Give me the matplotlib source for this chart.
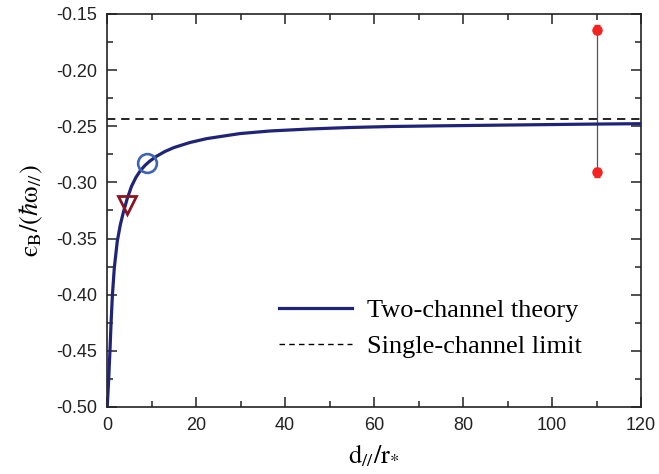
import matplotlib
matplotlib.use("Agg")
import matplotlib.pyplot as plt
from matplotlib.ticker import MultipleLocator, FormatStrFormatter
from matplotlib.lines import Line2D

plt.rcParams['mathtext.fontset'] = 'stix'
plt.rcParams['font.family'] = ['Liberation Sans', 'DejaVu Sans']

# Two-channel theory curve
curve_x = [0.05, 0.2, 0.37, 0.52, 0.67, 0.9, 1.2, 1.64, 2.3, 3.0, 3.7, 4.5, 5.5, 6.5,
           7.5, 8.5, 9.5, 11, 13, 15, 18.6, 22.4, 29.9, 36.6, 45.6, 54.6, 64, 75, 86,
           97, 108, 120]
curve_y = [-0.500, -0.488, -0.476, -0.462, -0.449, -0.426, -0.401, -0.376, -0.3525,
           -0.3375, -0.3262, -0.3150, -0.3035, -0.2955, -0.2895, -0.2850, -0.2814,
           -0.2770, -0.2725, -0.2690, -0.2645, -0.2610, -0.2565, -0.2542, -0.2524,
           -0.2511, -0.2502, -0.2496, -0.2491, -0.2486, -0.2481, -0.2477]

single_channel_limit = -0.2438

circle_pt = (8.9, -0.283)
triangle_pt = (4.4, -0.320)

exp_x = [110, 110]
exp_y = [-0.164, -0.291]
exp_err = [0.004, 0.004]

fig = plt.figure(figsize=(6.59, 4.74), dpi=100)
ax = fig.add_axes([0.1624, 0.1414, 0.8103, 0.8291])

ax.plot(curve_x, curve_y, color='#1f2478', lw=2.3, solid_capstyle='butt',
        solid_joinstyle='round', zorder=3)
ax.axhline(single_channel_limit, color='black', lw=1.2, ls=(0, (5, 3.5)), zorder=2)

ax.plot([exp_x[0], exp_x[1]], [exp_y[0], exp_y[1]], color='#555555', lw=0.9, zorder=2)
ax.errorbar(exp_x, exp_y, yerr=exp_err, fmt='o', color='#f5231f', ms=6.5,
            elinewidth=1.0, capsize=2, zorder=4)

ax.plot([circle_pt[0]], [circle_pt[1]], 'o', ms=13.5, mfc='none', mec='#3d63b5', mew=1.9, zorder=5)
ax.plot([triangle_pt[0]], [triangle_pt[1]], 'v', ms=13.5, mfc='none', mec='#8a1420', mew=2.0, zorder=5)

ax.set_xlim(0, 120)
ax.set_ylim(-0.50, -0.15)
ax.xaxis.set_major_locator(MultipleLocator(20))
ax.xaxis.set_minor_locator(MultipleLocator(10))
ax.yaxis.set_major_locator(MultipleLocator(0.05))
ax.yaxis.set_minor_locator(MultipleLocator(0.025))
ax.yaxis.set_major_formatter(FormatStrFormatter('%.2f'))

ax.tick_params(which='both', direction='in', top=True, right=True, width=1.1, labelsize=13,
               colors='#222222')
ax.tick_params(which='major', length=7, pad=7)
ax.tick_params(which='minor', length=4)
for s in ax.spines.values():
    s.set_linewidth(1.2)
    s.set_color('#222222')

ax.set_xlabel(r'$\mathrm{d}_{//}/\mathrm{r}_{*}$', fontsize=19, labelpad=6)
ax.set_ylabel(r'$\mathrm{ϵ}_{\mathrm{B}}/(\hbar\mathrm{ω}_{//})$', fontsize=19, labelpad=8)

handles = [Line2D([], [], color='#1f2478', lw=2.3),
           Line2D([], [], color='black', lw=1.0, ls=(0, (4, 3)))]
ax.legend(handles, ['Two-channel theory', 'Single-channel limit'], loc='upper left',
          bbox_to_anchor=(0.322, 0.275), borderaxespad=0, borderpad=0,
          frameon=False, handlelength=2.77, handletextpad=0.57,
          labelspacing=0.47, prop={'family': 'Liberation Serif', 'size': 19})

fig.savefig('out.png', dpi=100)
